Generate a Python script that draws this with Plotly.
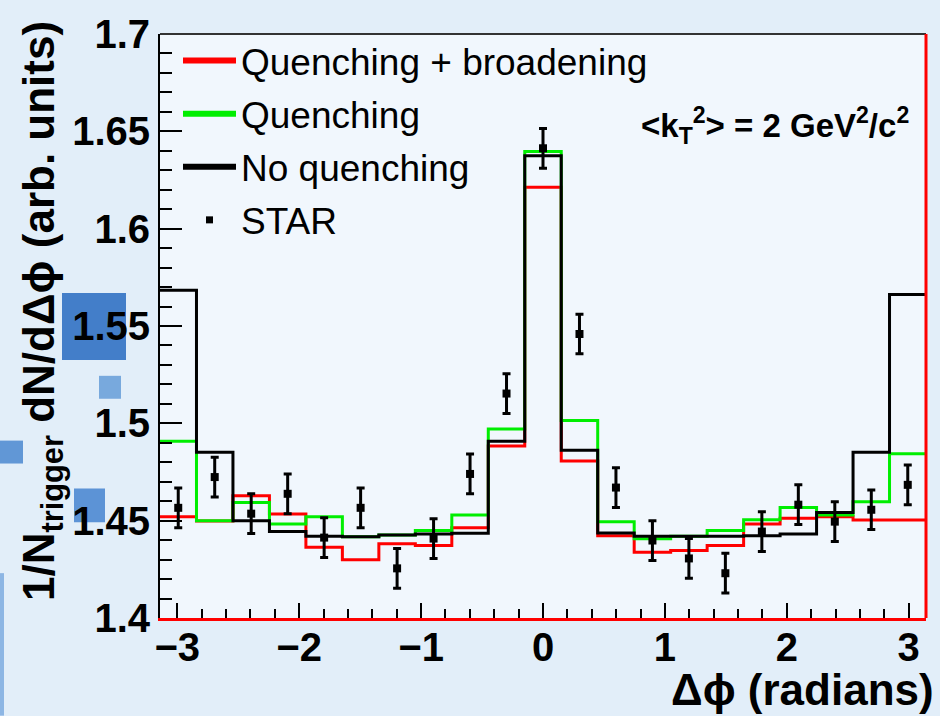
import numpy as np
import plotly.graph_objects as go

# ---------------- data ----------------
n_bins = 21
bin_edges = np.linspace(-np.pi, np.pi, n_bins + 1)
bin_centers = 0.5 * (bin_edges[:-1] + bin_edges[1:])

quench_broad = [1.4520, 1.4498, 1.4628, 1.4534, 1.4364, 1.4299, 1.4381, 1.4372, 1.4463, 1.4883, 1.6213,
                1.4806, 1.4423, 1.4338, 1.4347, 1.4372, 1.4483, 1.4512, 1.4520, 1.4503, 1.4503]
quench = [1.4908, 1.4500, 1.4593, 1.4483, 1.4520, 1.4418, 1.4427, 1.4449, 1.4529, 1.4971, 1.6396,
          1.5015, 1.4495, 1.4407, 1.4420, 1.4449, 1.4505, 1.4568, 1.4529, 1.4597, 1.4844]
no_quench = [1.5684, 1.4852, 1.4500, 1.4444, 1.4420, 1.4418, 1.4427, 1.4432, 1.4435, 1.4908, 1.6374,
             1.4862, 1.4437, 1.4420, 1.4420, 1.4420, 1.4423, 1.4432, 1.4542, 1.4852, 1.5662]
star = [1.4566, 1.4724, 1.4536, 1.4638, 1.4413, 1.4566, 1.4255, 1.4408, 1.4740, 1.5153, 1.6413,
        1.5459, 1.4670, 1.4398, 1.4306, 1.4230, 1.4444, 1.4582, 1.4495, 1.4556, 1.4684]
star_err = [0.0102] * n_bins

x_tick_vals = [-3, -2, -1, 0, 1, 2, 3]

FONT = "Liberation Sans"

fig = go.Figure()

def step_trace(vals, color, name):
    return go.Scatter(x=list(bin_edges), y=list(vals) + [vals[-1]], mode="lines",
                      line=dict(color=color, width=3, shape="hv"), name=name,
                      showlegend=False, hoverinfo="skip")

fig.add_trace(step_trace(quench_broad, "#ff0000", "Quenching + broadening"))
fig.add_trace(step_trace(quench, "#00ee00", "Quenching"))
fig.add_trace(step_trace(no_quench, "#000000", "No quenching"))
fig.add_trace(go.Scatter(x=bin_centers, y=star, mode="markers", name="STAR", showlegend=False,
                         marker=dict(symbol="square", size=8, color="black"),
                         error_y=dict(type="data", array=star_err, thickness=3, width=4, color="black")))

# legend entries
for i, (nm, col) in enumerate([("Quenching + broadening", "#ff0000"), ("Quenching", "#00ee00"),
                               ("No quenching", "#000000")]):
    fig.add_trace(go.Scatter(x=[None], y=[None], mode="lines", name=nm, legendgroup=f"g{i}",
                             line=dict(color=col, width=6)))
fig.add_trace(go.Scatter(x=[None], y=[None], mode="markers", name="STAR", legendgroup="g3",
                         marker=dict(symbol="square", size=7, color="black")))

L, R, T, B = 160, 14, 32, 98
W, H = 940, 716
pw, ph = W - L - R, H - T - B

def px(x):
    return (x - L) / pw

def py(y):
    return (H - B - y) / ph

shapes = []
# decorative background squares (slide background)
for (x0, y0, x1, y1, col, op) in [(62, 292, 126, 359, "#3a77c6", 0.95), (99, 375, 121, 398, "#5e97d6", 0.8),
                                   (0, 440, 23, 463, "#4a87d0", 0.85), (74, 488, 105, 522, "#4483d0", 0.85),
                                   (0, 573, 4, 716, "#6a9edb", 0.7)]:
    shapes.append(dict(type="rect", xref="paper", yref="paper", x0=px(x0), x1=px(x1), y0=py(y1), y1=py(y0),
                       fillcolor=col, opacity=op, line=dict(width=0), layer="below"))
# frame top and right
shapes.append(dict(type="line", xref="paper", yref="paper", x0=0, x1=1, y0=1, y1=1,
                   line=dict(color="#333333", width=2)))
shapes.append(dict(type="line", xref="paper", yref="paper", x0=1, x1=1, y0=0, y1=1,
                   line=dict(color="#ff0000", width=3)))

annotations = [
    dict(text="1/N<sub>trigger</sub> dN/dΔϕ (arb. units)", xref="paper", yref="paper",
         x=px(42), y=py(310), textangle=-90, showarrow=False, xanchor="center", yanchor="middle",
         font=dict(family=FONT, size=44, color="black", weight="bold")),
    dict(text="Δϕ (radians)", xref="paper", yref="paper", x=px(936), y=py(690), showarrow=False,
         xanchor="right", yanchor="middle", font=dict(family=FONT, size=44, color="black", weight="bold")),
    dict(text="&lt;k<sub>T</sub><sup>2</sup>&gt; = 2 GeV<sup>2</sup>/c<sup>2</sup>", xref="paper", yref="paper",
         x=px(911), y=py(124), showarrow=False, xanchor="right", yanchor="middle",
         font=dict(family=FONT, size=33, color="black", weight="bold")),
]

fig.update_layout(
    width=W, height=H,
    margin=dict(l=L, r=R, t=T, b=B),
    paper_bgcolor="#e2eef9",
    plot_bgcolor="#f1f7fd",
    font=dict(family=FONT, color="black"),
    shapes=shapes,
    annotations=annotations,
    showlegend=True,
    legend=dict(x=px(178), y=py(28), xanchor="left", yanchor="top", bgcolor="rgba(0,0,0,0)",
                font=dict(family=FONT, size=37, color="black"), itemwidth=53,
                traceorder="grouped", tracegroupgap=2),
    xaxis=dict(range=[-np.pi, np.pi], tickmode="array", tickvals=x_tick_vals, ticks="inside",
               ticklen=15, tickwidth=2, tickcolor="black", showline=True, linecolor="#ff0000", linewidth=3,
               showgrid=False, zeroline=False, tickfont=dict(family=FONT, size=40, weight="bold"),
               ticklabelstandoff=-8,
               minor=dict(tickmode="linear", tick0=0, dtick=0.2, ticks="inside", ticklen=9, tickwidth=2,
                          tickcolor="black", showgrid=False)),
    yaxis=dict(range=[1.4, 1.7], tick0=1.4, dtick=0.05, ticks="inside", ticklen=22, tickwidth=2,
               tickcolor="black", showline=True, linecolor="black", linewidth=2, showgrid=False,
               zeroline=False, tickfont=dict(family=FONT, size=40, weight="bold"),
               minor=dict(tick0=1.4, dtick=0.01, ticks="inside", ticklen=12, tickwidth=2,
                          tickcolor="black", showgrid=False)),
)

fig.write_html("out.html")
